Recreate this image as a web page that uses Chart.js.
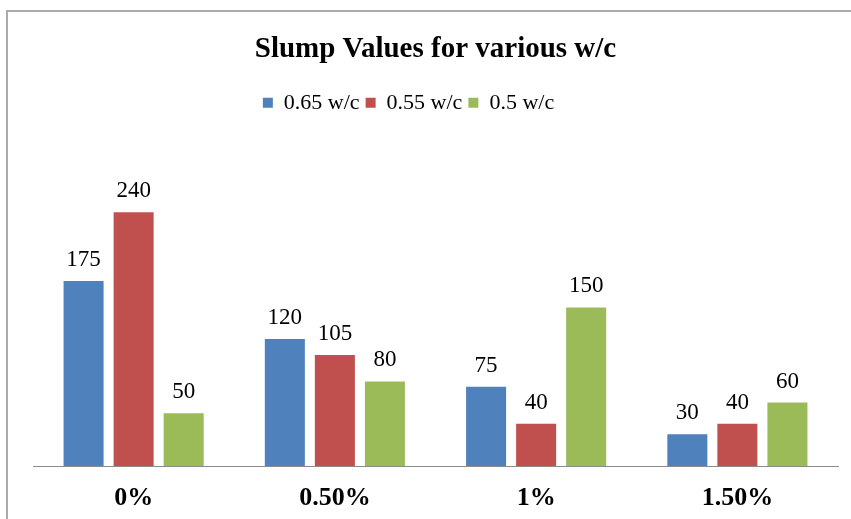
<!DOCTYPE html>
<html>
<head>
<meta charset="utf-8">
<script src="https://cdn.jsdelivr.net/npm/chart.js@4.4.0/dist/chart.umd.min.js"></script>
<style>
  html, body { margin: 0; padding: 0; background: #fff; }
  #wrap { position: relative; width: 851px; height: 519px; overflow: hidden; }
  #frame { position: absolute; left: 6px; top: 10px; width: 900px; height: 600px; border: 2px solid #ababab; }
  canvas { position: absolute; left: 0; top: 0; }
</style>
</head>
<body>
<div id="wrap">
  <div id="frame"></div>
  <canvas id="chart" width="851" height="519"></canvas>
</div>
<script>
// fibre content categories and slump (mm) per w/c ratio
const categories = ['0%', '0.50%', '1%', '1.50%'];
const seriesNames = ['0.65 w/c', '0.55 w/c', '0.5 w/c'];
const slump065 = [175, 120, 75, 30];
const slump055 = [240, 105, 40, 40];
const slump050 = [50, 80, 150, 60];
const seriesColors = ['#4F81BD', '#C0504D', '#9BBB59'];

const serif = "'Liberation Serif', 'Times New Roman', serif";

// draws the value above each bar
const valueLabels = {
  id: 'valueLabels',
  afterDatasetsDraw(chart) {
    const ctx = chart.ctx;
    ctx.save();
    ctx.font = '23px ' + serif;
    ctx.fillStyle = '#000';
    ctx.textAlign = 'center';
    ctx.textBaseline = 'alphabetic';
    chart.data.datasets.forEach((ds, i) => {
      chart.getDatasetMeta(i).data.forEach((bar, j) => {
        ctx.fillText(String(ds.data[j]), bar.x, bar.y - 15);
      });
    });
    ctx.restore();
  },
};

// leaves room under the legend and nudges it left, like the Excel layout
const legendSpace = {
  id: 'legendSpace',
  beforeInit(chart) {
    const fit = chart.legend.fit;
    chart.legend.fit = function () {
      fit.call(this);
      this.height = 63;
    };
  },
  afterLayout(chart) {
    chart.legend.right -= 54;
  },
};

const ctx = document.getElementById('chart').getContext('2d');
new Chart(ctx, {
  type: 'bar',
  data: {
    labels: categories,
    datasets: [slump065, slump055, slump050].map((values, i) => ({
      label: seriesNames[i],
      data: values,
      backgroundColor: seriesColors[i],
      borderWidth: 0,
      barPercentage: 0.8,
      categoryPercentage: 0.746,
    })),
  },
  options: {
    responsive: false,
    animation: false,
    layout: {
      padding: { left: 33, right: 13, top: 0, bottom: 0 },
    },
    plugins: {
      title: {
        display: true,
        text: 'Slump Values for various w/c',
        color: '#000',
        font: { family: serif, size: 29, weight: 'bold' },
        padding: { top: 32, bottom: 19 },
      },
      legend: {
        display: true,
        position: 'top',
        labels: {
          color: '#000',
          font: { family: serif, size: 22 },
          boxWidth: 10,
          boxHeight: 10,
          padding: 6,
        },
      },
      tooltip: { enabled: false },
    },
    scales: {
      x: {
        grid: { display: false },
        border: { display: true, color: '#8c8c8c', width: 1 },
        ticks: {
          color: '#000',
          padding: 9,
          font: { family: serif, size: 26, weight: 'bold' },
        },
        afterFit(scale) {
          scale.height = 53;
        },
      },
      y: {
        display: false,
        min: 0,
        max: 300,
      },
    },
  },
  plugins: [valueLabels, legendSpace],
});
</script>
</body>
</html>
